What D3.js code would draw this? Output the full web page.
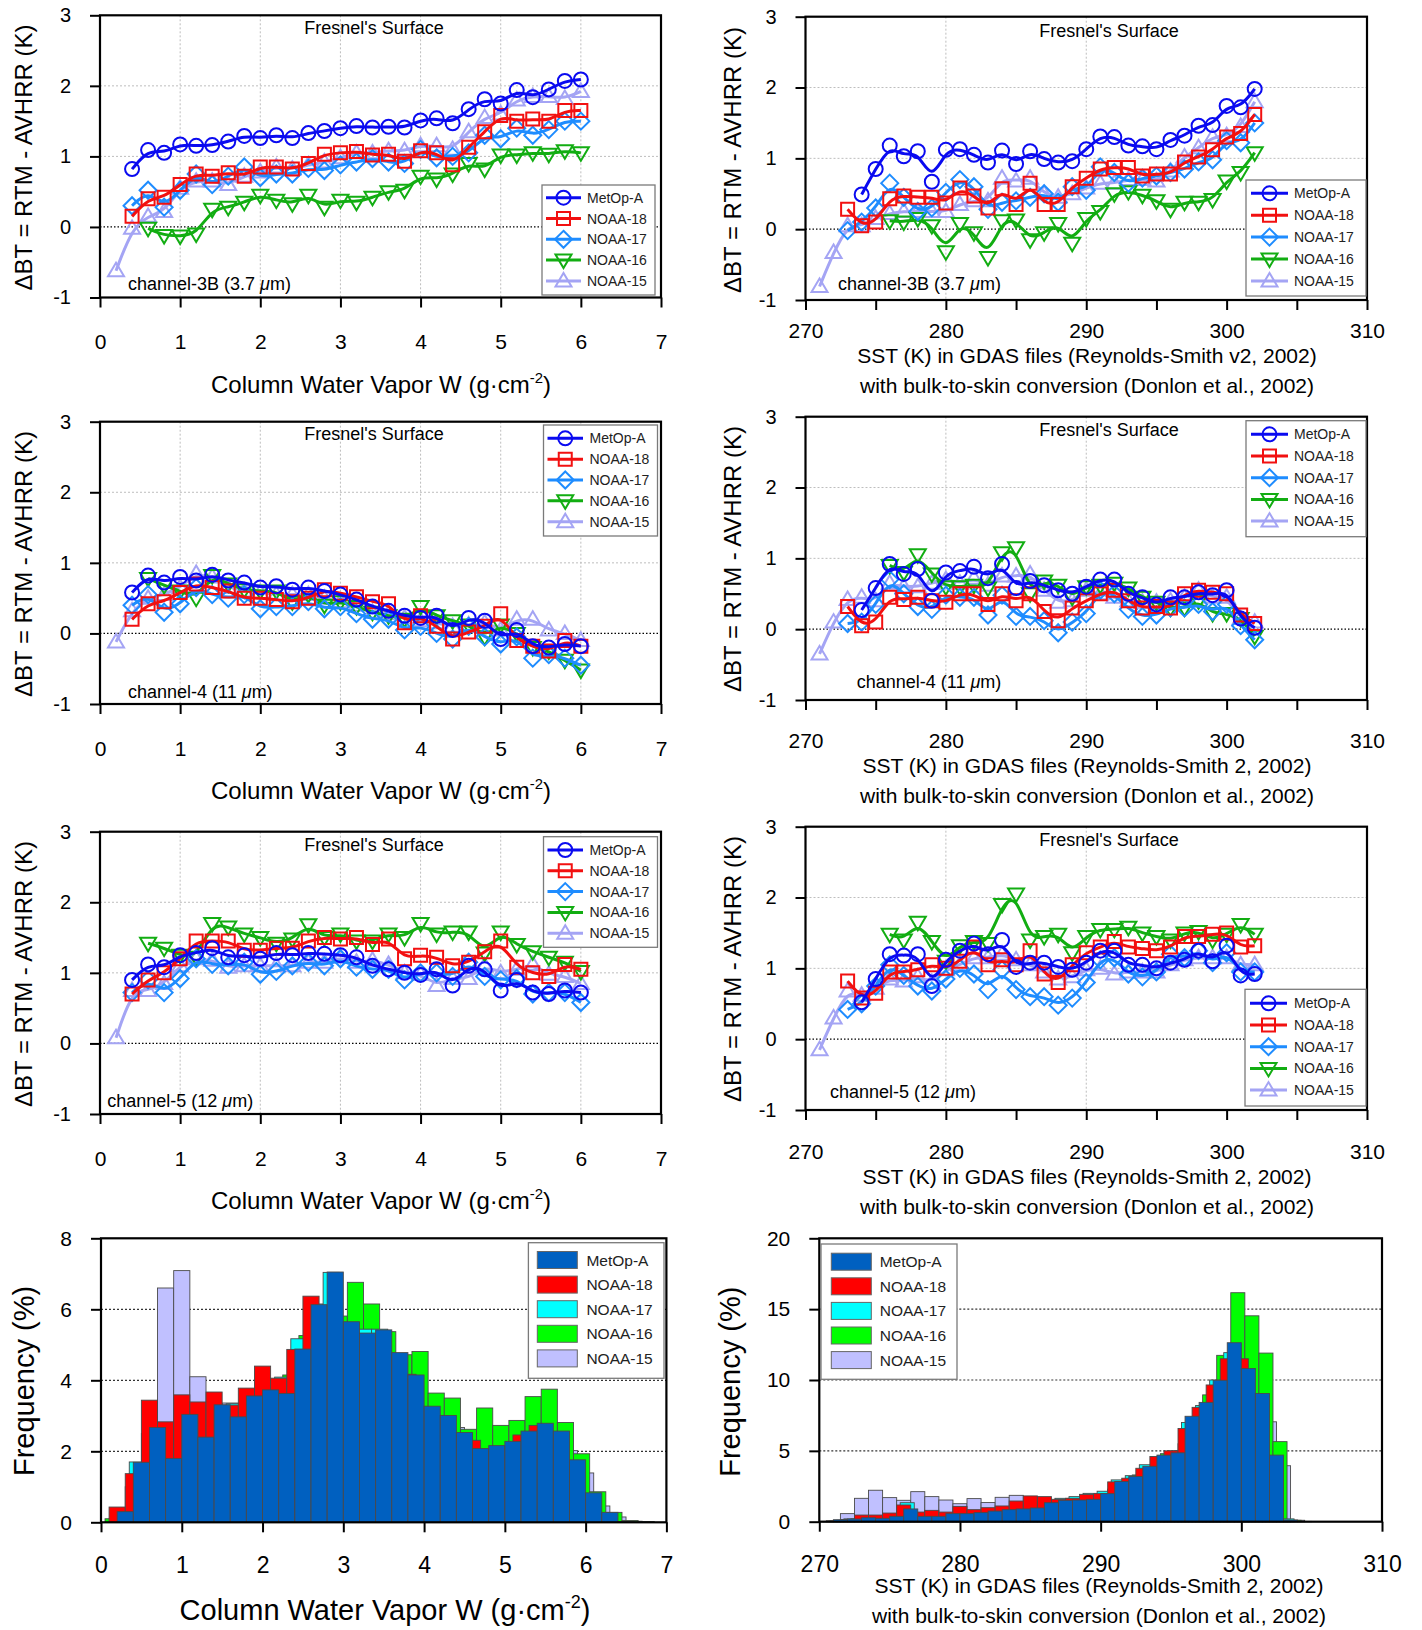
<!DOCTYPE html>
<html>
<head>
<meta charset="utf-8">
<script src="https://cdn.jsdelivr.net/npm/d3@7"></script>
<style>
  body { margin: 0; background: #fff; }
  svg { display: block; }
  text { font-family: "Liberation Sans", Arial, Helvetica, sans-serif; }
</style>
</head>
<body>
<svg id="fig" width="1422" height="1630"></svg>
<script>
// ---------- satellites ----------
const sats = ["MetOp-A", "NOAA-18", "NOAA-17", "NOAA-16", "NOAA-15"];

// ---------- x positions of the binned means ----------
const wvX = [0.2,0.4,0.6,0.8,1.0,1.2,1.4,1.6,1.8,2.0,2.2,2.4,2.6,2.8,3.0,3.2,3.4,3.6,3.8,4.0,
             4.2,4.4,4.6,4.8,5.0,5.2,5.4,5.6,5.8,6.0];
const sstX = [271,272,273,274,275,276,277,278,279,280,281,282,283,284,285,286,287,288,289,290,
              291,292,293,294,295,296,297,298,299,300,301,302];

// ---------- channel-3B (3.7 um) vs water vapour ----------
const c3w_metop = [null,0.82,1.09,1.05,1.17,1.15,1.16,1.21,1.29,1.26,1.30,1.26,1.33,1.36,1.40,1.43,1.41,1.42,1.41,1.51,1.54,1.47,1.67,1.81,1.75,1.94,1.84,1.95,2.07,2.09];
const c3w_n18   = [null,0.15,0.40,0.42,0.60,0.75,0.72,0.77,0.72,0.85,0.85,0.82,0.90,1.03,1.05,1.07,1.02,1.03,0.93,1.08,1.05,0.88,1.13,1.35,1.58,1.50,1.53,1.50,1.65,1.65];
const c3w_n17   = [null,0.30,0.52,0.28,0.52,0.75,0.60,0.72,0.85,0.70,0.75,0.75,0.83,0.80,0.88,0.92,0.97,0.92,0.90,1.10,0.98,1.00,1.05,1.30,1.25,1.40,1.30,1.38,1.50,1.50];
const c3w_n16   = [null,null,-0.02,-0.12,-0.13,-0.10,0.25,0.28,0.35,0.45,0.38,0.33,0.45,0.28,0.38,0.35,0.42,0.50,0.52,0.72,0.68,0.75,0.90,0.82,1.02,1.02,1.05,1.03,1.08,1.05];
const c3w_n15   = [-0.62,-0.02,0.15,0.22,0.55,0.65,0.65,0.60,0.72,0.78,0.85,0.82,0.88,0.92,0.98,1.05,1.05,1.08,1.08,1.15,1.15,1.10,1.35,1.55,1.60,1.80,1.85,1.85,1.82,1.92];

// ---------- channel-4 (11 um) vs water vapour ----------
const c4w_metop = [null,0.58,0.82,0.72,0.80,0.75,0.83,0.75,0.72,0.65,0.67,0.62,0.65,0.60,0.55,0.48,0.38,0.32,0.25,0.22,0.25,0.05,0.22,0.18,-0.08,0.05,-0.18,-0.20,-0.15,-0.18];
const c4w_n18   = [null,0.20,0.42,0.45,0.58,0.70,0.65,0.60,0.50,0.50,0.48,0.45,0.50,0.62,0.57,0.52,0.45,0.42,0.15,0.25,0.10,-0.08,0.02,0.10,0.28,-0.10,-0.18,-0.25,-0.10,-0.18];
const c4w_n17   = [null,0.40,0.55,0.30,0.42,0.65,0.55,0.50,0.55,0.35,0.38,0.38,0.45,0.35,0.38,0.28,0.20,0.20,0.05,0.10,0.00,-0.08,0.10,-0.05,-0.15,-0.05,-0.35,-0.30,-0.35,-0.45];
const c4w_n16   = [null,null,0.78,0.68,0.60,0.50,0.82,0.70,0.62,0.60,0.60,0.45,0.55,0.40,0.45,0.38,0.30,0.25,0.20,0.38,0.25,0.18,0.12,-0.05,0.12,0.00,-0.20,-0.25,-0.38,-0.52];
const c4w_n15   = [-0.12,0.32,0.50,0.55,0.65,0.85,0.80,0.65,0.60,0.58,0.55,0.55,0.55,0.50,0.45,0.40,0.30,0.28,0.22,0.18,0.15,0.10,0.12,0.15,0.05,0.20,0.20,0.05,0.00,-0.10];

// ---------- channel-5 (12 um) vs water vapour ----------
const c5w_metop = [null,0.90,1.12,1.08,1.25,1.28,1.35,1.22,1.25,1.20,1.28,1.25,1.28,1.27,1.25,1.22,1.10,1.05,1.00,0.97,1.05,0.82,1.10,1.05,0.75,0.90,0.72,0.70,0.75,0.72];
const c5w_n18   = [null,0.70,0.90,1.00,1.20,1.45,1.45,1.45,1.32,1.32,1.35,1.35,1.45,1.50,1.48,1.50,1.40,1.48,1.20,1.25,1.22,1.10,1.15,1.30,1.45,1.08,1.00,0.95,1.12,1.05];
const c5w_n17   = [null,0.72,0.90,0.72,0.92,1.20,1.12,1.10,1.15,0.98,1.02,1.10,1.15,1.10,1.20,1.08,1.05,1.05,0.90,1.00,1.00,0.95,1.15,0.95,0.90,0.92,0.70,0.72,0.72,0.58];
const c5w_n16   = [null,null,1.42,1.35,1.25,1.22,1.70,1.65,1.55,1.50,1.42,1.48,1.68,1.50,1.55,1.45,1.45,1.55,1.50,1.70,1.55,1.58,1.58,1.28,1.58,1.40,1.30,1.22,1.15,1.02];
const c5w_n15   = [0.08,0.75,0.75,0.85,1.10,1.20,1.18,1.08,1.10,1.10,1.10,1.10,1.15,1.15,1.22,1.15,1.18,1.12,1.00,0.98,0.82,0.92,0.92,1.10,1.00,1.05,1.12,0.98,0.95,0.85];

// ---------- channel-3B vs SST ----------
const c3s_metop = [null,null,null,0.49,0.85,1.18,1.03,1.10,0.67,1.12,1.13,1.05,0.94,1.11,0.92,1.10,0.99,0.94,0.96,1.13,1.31,1.30,1.18,1.17,1.13,1.26,1.32,1.46,1.47,1.74,1.72,1.98];
const c3s_n18   = [null,null,0.28,0.05,0.10,0.43,0.47,0.45,0.45,0.37,0.58,0.47,0.30,0.57,0.35,0.65,0.35,0.35,0.60,0.72,0.85,0.87,0.87,0.75,0.78,0.78,0.95,1.02,1.12,1.30,1.35,1.62];
const c3s_n17   = [null,null,-0.02,0.10,0.30,0.65,0.45,0.25,0.30,0.52,0.70,0.60,0.28,0.38,0.40,0.45,0.50,0.38,0.60,0.55,0.88,0.80,0.65,0.72,0.75,0.80,0.85,0.95,0.98,1.25,1.22,1.50];
const c3s_n16   = [null,null,null,null,null,0.12,0.10,0.15,0.05,-0.32,0.08,-0.05,-0.40,0.12,0.13,-0.15,-0.05,0.08,-0.20,0.15,0.25,0.50,0.53,0.48,0.40,0.28,0.38,0.38,0.42,0.68,0.80,1.08];
const c3s_n15   = [-0.81,-0.33,0.05,0.05,0.15,0.22,0.25,0.25,0.25,0.25,0.35,0.40,0.40,0.72,0.68,0.72,0.50,0.45,0.50,0.58,0.65,0.65,0.70,0.70,0.68,0.82,1.02,1.15,1.30,1.32,1.45,1.80];

// ---------- channel-4 vs SST ----------
const c4s_metop = [null,null,null,0.27,0.58,0.92,0.78,0.85,0.40,0.80,0.82,0.88,0.72,0.92,0.58,0.68,0.62,0.55,0.50,0.60,0.70,0.70,0.50,0.45,0.35,0.45,0.45,0.52,0.48,0.55,0.15,0.02];
const c4s_n18   = [null,null,0.32,0.05,0.10,0.45,0.42,0.45,0.40,0.38,0.50,0.50,0.35,0.50,0.40,0.50,0.25,0.12,0.30,0.40,0.50,0.55,0.40,0.30,0.32,0.30,0.50,0.55,0.52,0.50,0.20,0.08];
const c4s_n17   = [null,null,0.08,0.10,0.35,0.70,0.50,0.32,0.28,0.48,0.45,0.45,0.20,0.48,0.18,0.18,0.12,-0.05,0.10,0.22,0.55,0.50,0.28,0.18,0.20,0.30,0.30,0.35,0.25,0.35,0.05,-0.15];
const c4s_n16   = [null,null,null,null,null,0.90,0.80,1.05,0.78,0.60,0.60,0.62,0.58,1.08,1.15,0.50,0.68,0.62,0.45,0.60,0.62,0.65,0.58,0.45,0.38,0.30,0.30,0.40,0.22,0.22,0.15,-0.10];
const c4s_n15   = [-0.35,0.10,0.42,0.45,0.40,0.65,0.60,0.60,0.65,0.70,0.65,0.72,0.62,0.75,0.75,0.78,0.55,0.38,0.40,0.55,0.50,0.45,0.40,0.38,0.38,0.40,0.45,0.55,0.45,0.45,0.15,0.10];

// ---------- channel-5 vs SST ----------
const c5s_metop = [null,null,null,0.52,0.85,1.20,1.18,1.20,0.75,1.12,1.25,1.35,1.20,1.40,1.02,1.08,1.08,1.02,0.98,1.08,1.25,1.25,1.05,1.05,1.00,1.08,1.12,1.25,1.10,1.32,0.90,0.92];
const c5s_n18   = [null,null,0.82,0.58,0.65,0.95,0.95,0.98,1.05,1.00,1.10,1.30,1.05,1.12,1.05,1.25,0.92,0.80,1.05,1.22,1.30,1.38,1.30,1.28,1.25,1.30,1.45,1.45,1.48,1.50,1.30,1.32];
const c5s_n17   = [null,null,0.42,0.50,0.75,1.05,0.90,0.75,0.68,0.85,1.00,0.92,0.70,0.98,0.70,0.60,0.60,0.48,0.58,0.80,1.12,1.15,0.92,0.88,0.95,1.20,1.15,1.25,1.08,1.22,0.95,0.95];
const c5s_n16   = [null,null,null,null,null,1.48,1.40,1.65,1.38,1.10,1.32,1.38,1.35,1.90,2.05,1.40,1.45,1.48,1.22,1.45,1.55,1.55,1.58,1.50,1.45,1.40,1.50,1.52,1.40,1.48,1.62,1.48];
const c5s_n15   = [-0.15,0.30,0.68,0.62,0.72,0.85,0.82,0.88,0.80,0.98,1.05,1.15,1.15,1.20,1.12,1.05,0.95,0.85,0.88,0.98,1.00,0.92,0.95,0.95,0.95,1.05,1.12,1.15,1.15,1.15,1.05,1.05];

// ---------- frequency histograms (%), water vapour bins of 0.2 g/cm2 ----------
const wvBinWidth = 0.2;
const wvBinStart = [0.0, 0.1, 0.15, 0.05, 0.1];   // first bin edge per satellite (order as sats)
const hw_metop = [0,0.30,1.69,2.67,1.80,3.04,2.40,3.31,2.97,3.56,3.73,3.63,4.88,6.13,7.05,5.65,5.33,5.42,4.78,4.15,3.27,3.01,2.53,2.08,2.16,2.28,2.57,2.79,2.57,1.76,0.83,0.28,0.02,0.01];
const hw_n18   = [0.43,1.37,3.44,2.83,3.59,3.39,3.67,3.30,3.78,4.40,4.06,4.87,6.37,6.0,5.6,5.3,5.2,4.7,4.17,3.2,3.0,2.5,2.31,2.0,2.1,2.46,2.73,2.5,1.7,0.8,0.25,0.02];
const hw_n17   = [0.3,1.70,2.4,2.2,2.8,2.6,3.2,3.34,3.3,3.7,4.09,5.17,6.15,7.04,5.6,5.44,5.44,4.7,4.1,3.2,2.95,2.45,2.05,2.05,2.15,2.25,2.55,2.5,1.7,0.8,0.25,0.02];
const hw_n16   = [0.1,0.4,1.3,2.2,2.0,2.6,2.3,3.0,2.9,3.3,3.6,4.15,5.26,5.9,5.81,6.76,6.15,5.37,4.72,4.81,3.64,3.50,2.62,3.22,2.73,2.87,3.54,3.75,2.81,1.93,0.86,0.28,0.05,0.02];
const hw_n15   = [0.1,1.0,2.5,6.60,7.09,4.10,3.3,3.36,3.0,3.2,3.3,3.6,4.0,4.6,4.8,4.6,4.5,4.2,3.8,3.3,2.9,2.67,2.3,2.1,2.2,2.3,2.5,2.5,2.02,1.39,0.46,0.15,0.03];

// ---------- frequency histograms (%), SST bins of 1 K ----------
const sstBinWidth = 1;
const sstBinStart = [270, 270.5, 270.75, 270.25, 270.5];
const hs_metop = [0.02,0.14,0.19,0.28,0.24,0.38,0.90,0.38,0.38,0.57,0.57,0.64,0.75,0.85,0.90,0.97,1.34,1.51,1.53,1.58,1.98,2.84,3.19,3.91,4.70,4.86,7.44,8.42,9.98,12.63,10.81,9.05,4.70,0.12,0.02];
const hs_n18   = [0.05,0.15,0.47,0.47,0.61,1.18,0.68,0.80,0.68,1.08,0.85,0.99,1.11,1.46,1.82,1.77,1.58,1.65,1.93,1.98,2.81,3.07,3.77,4.6,5.0,6.58,8.07,9.65,11.5,11.5,9.0,4.5,0.1];
const hs_n17   = [0.05,0.2,0.3,0.3,0.5,1.34,0.5,0.5,0.6,0.65,0.7,0.8,0.9,1.0,1.1,1.4,1.65,1.77,2.0,2.15,2.95,3.25,4.02,4.46,5.0,7.0,8.2,10.0,11.93,10.5,8.8,4.5,0.2];
const hs_n16   = [0.02,0.1,0.2,0.3,0.3,0.5,0.6,0.5,0.5,0.6,0.6,0.7,0.8,0.9,1.0,1.2,1.4,1.5,1.6,1.9,2.1,2.7,3.3,3.9,4.8,5.0,7.3,8.95,11.74,16.16,14.53,11.9,5.65,0.1];
const hs_n15   = [0.05,0.57,1.65,2.22,1.70,1.51,2.12,1.77,1.53,1.27,1.63,1.35,1.72,1.86,1.4,1.4,1.4,1.5,1.6,1.8,2.3,2.6,3.2,3.8,4.3,5.5,6.8,8.0,9.5,10.0,8.5,7.05,3.95,0.1];

// ---------- axis ticks ----------
const wvTicks = [0,1,2,3,4,5,6,7];
const sstTicks = [270,275,280,285,290,295,300,305,310];
const sstHistTicks = [270,280,290,300,310];
const dbtTicks = [-1,0,1,2,3];
const freqWTicks = [0,2,4,6,8];
const freqSTicks = [0,5,10,15,20];

// ---------- styles ----------
const lineColor = {"MetOp-A":"#0a0af0","NOAA-18":"#f21010","NOAA-17":"#1e8cff","NOAA-16":"#12ad12","NOAA-15":"#a4a4f4"};
const barColor  = {"MetOp-A":"#0060c0","NOAA-18":"#ff0000","NOAA-17":"#00ffff","NOAA-16":"#00ff00","NOAA-15":"#c0c0ff"};
const shape = {"MetOp-A":"circle","NOAA-18":"square","NOAA-17":"diamond","NOAA-16":"tridown","NOAA-15":"triup"};

const svg = d3.select("#fig");
const plain = d => String(d);   // integer labels with a plain hyphen for negatives

function markerPath(kind) {
  const p = d3.path();
  if (kind === "circle") { p.moveTo(7, 0); p.arc(0, 0, 7, 0, 2 * Math.PI); }
  else if (kind === "square") { p.rect(-6.5, -6.5, 13, 13); }
  else if (kind === "diamond") { p.moveTo(0,-8.5); p.lineTo(8.5,0); p.lineTo(0,8.5); p.lineTo(-8.5,0); p.closePath(); }
  else if (kind === "tridown") { p.moveTo(-8,-5.5); p.lineTo(8,-5.5); p.lineTo(0,8); p.closePath(); }
  else { p.moveTo(-8,5.5); p.lineTo(8,5.5); p.lineTo(0,-8); p.closePath(); }
  return p.toString();
}

function wvTitle(g, cx, by, size) {
  const t = g.append("text").attr("x", cx).attr("y", by).attr("text-anchor", "middle")
    .attr("font-size", size).attr("fill", "#000");
  t.append("tspan").text("Column Water Vapor W (g·cm");
  t.append("tspan").attr("dy", -0.42 * size).attr("font-size", size * 0.62).text("-2");
  t.append("tspan").attr("dy", 0.42 * size).text(")");
}

function sstTitle(g, cx, by1, by2, size, first) {
  g.append("text").attr("x", cx).attr("y", by1).attr("text-anchor", "middle").attr("font-size", size).text(first);
  g.append("text").attr("x", cx).attr("y", by2).attr("text-anchor", "middle").attr("font-size", size)
    .text("with bulk-to-skin conversion (Donlon et al., 2002)");
}

function yTitle(g, bx, cy, size, txt) {
  g.append("text").attr("transform", `translate(${bx},${cy}) rotate(-90)`)
    .attr("text-anchor", "middle").attr("font-size", size).text(txt);
}

function styleAxis(ga, fs) {
  ga.select(".domain").remove();
  ga.attr("font-size", fs);
  ga.selectAll(".tick line").attr("stroke", "#000").attr("stroke-width", 2);
  ga.selectAll(".tick text").attr("fill", "#000");
}

// ---------- line panels ----------
function linePanel(o) {
  const g = svg.append("g");
  const x = d3.scaleLinear().domain(o.xDomain).range([o.left, o.right]);
  const y = d3.scaleLinear().domain([-1, 3]).range([o.bottom, o.top]);

  g.selectAll(null).data(o.xGrid).join("line")
    .attr("x1", d => x(d)).attr("x2", d => x(d)).attr("y1", o.top).attr("y2", o.bottom)
    .attr("stroke", "#bdbdbd").attr("stroke-width", 1).attr("stroke-dasharray", "2,2");
  g.selectAll(null).data([1, 2]).join("line")
    .attr("x1", o.left).attr("x2", o.right).attr("y1", d => y(d)).attr("y2", d => y(d))
    .attr("stroke", "#bdbdbd").attr("stroke-width", 1).attr("stroke-dasharray", "2,2");
  g.append("line").attr("x1", o.left).attr("x2", o.right).attr("y1", y(0)).attr("y2", y(0))
    .attr("stroke", "#000").attr("stroke-width", 1.3).attr("stroke-dasharray", "1.5,2");

  const line = d3.line().x(d => x(d[0])).y(d => y(d[1])).curve(d3.curveBasis);
  [...sats].reverse().forEach(n => {
    const pts = o.xs.map((xv, i) => [xv, o.series[n][i]]).filter(d => d[1] !== null);
    g.append("g").selectAll("path").data(pts).join("path")
      .attr("d", markerPath(shape[n]))
      .attr("transform", d => `translate(${x(d[0])},${y(d[1])})`)
      .attr("fill", "none").attr("stroke", lineColor[n]).attr("stroke-width", 2);
    g.append("path").datum(pts).attr("d", line)
      .attr("fill", "none").attr("stroke", lineColor[n]).attr("stroke-width", 3);
  });

  g.append("rect").attr("x", o.left).attr("y", o.top).attr("width", o.right - o.left)
    .attr("height", o.bottom - o.top).attr("fill", "none").attr("stroke", "#000").attr("stroke-width", 2.2);

  const gx = g.append("g").attr("transform", `translate(0,${o.bottom})`)
    .call(d3.axisBottom(x).tickValues(o.xTicks)
      .tickFormat(d => (o.xLabelEvery ? (d % o.xLabelEvery === 0 ? String(d) : "") : String(d)))
      .tickSize(10).tickPadding(o.xPad));
  styleAxis(gx, 21);
  const gy = g.append("g").attr("transform", `translate(${o.left},0)`)
    .call(d3.axisLeft(y).tickValues(dbtTicks).tickFormat(plain).tickSize(10).tickPadding(19));
  styleAxis(gy, 20);

  g.append("text").attr("x", o.fresnel[0]).attr("y", o.fresnel[1]).attr("text-anchor", "middle")
    .attr("font-size", 18).text("Fresnel's Surface");
  const ch = g.append("text").attr("x", o.chan[0]).attr("y", o.chan[1]).attr("font-size", 18);
  ch.append("tspan").text(o.chanText);
  ch.append("tspan").attr("font-style", "italic").text("μ");
  ch.append("tspan").text("m)");

  // legend
  const L = o.legend;
  const lg = g.append("g");
  lg.append("rect").attr("x", L.x).attr("y", L.y).attr("width", L.w).attr("height", L.h)
    .attr("fill", "#fff").attr("stroke", "#7a7a7a").attr("stroke-width", 1.3);
  sats.forEach((n, i) => {
    const cy = L.row0 + i * L.dy;
    lg.append("line").attr("x1", L.lx1).attr("x2", L.lx2).attr("y1", cy).attr("y2", cy)
      .attr("stroke", lineColor[n]).attr("stroke-width", 3);
    lg.append("path").attr("d", markerPath(shape[n]))
      .attr("transform", `translate(${(L.lx1 + L.lx2) / 2},${cy})`)
      .attr("fill", "none").attr("stroke", lineColor[n]).attr("stroke-width", 2);
    lg.append("text").attr("x", L.tx).attr("y", cy + 5).attr("font-size", 14).attr("fill", "#222").text(n);
  });
  return g;
}

// ---------- histogram panels ----------
function histPanel(o) {
  const g = svg.append("g");
  const x = d3.scaleLinear().domain(o.xDomain).range([o.left, o.right]);
  const y = d3.scaleLinear().domain(o.yDomain).range([o.bottom, o.top]);

  g.selectAll(null).data(o.yGrid).join("line")
    .attr("x1", o.left).attr("x2", o.right).attr("y1", d => y(d)).attr("y2", d => y(d))
    .attr("stroke", "#333").attr("stroke-width", 1.2).attr("stroke-dasharray", "2,2");

  [...sats].reverse().forEach(n => {
    const k = sats.indexOf(n);
    const bins = o.series[n].map((v, i) => ({ x0: o.starts[k] + i * o.width, v }));
    g.append("g").selectAll("rect").data(bins).join("rect")
      .attr("x", d => x(d.x0)).attr("width", d => x(d.x0 + o.width) - x(d.x0))
      .attr("y", d => y(d.v)).attr("height", d => y(0) - y(d.v))
      .attr("fill", barColor[n]).attr("stroke", "#4a4a4a").attr("stroke-width", 0.9);
  });

  g.append("rect").attr("x", o.left).attr("y", o.top).attr("width", o.right - o.left)
    .attr("height", o.bottom - o.top).attr("fill", "none").attr("stroke", "#000").attr("stroke-width", 2.2);

  const gx = g.append("g").attr("transform", `translate(0,${o.bottom})`)
    .call(d3.axisBottom(x).tickValues(o.xTicks).tickFormat(plain).tickSize(10).tickPadding(o.xPad));
  styleAxis(gx, 23);
  const gy = g.append("g").attr("transform", `translate(${o.left},0)`)
    .call(d3.axisLeft(y).tickValues(o.yTicks).tickFormat(plain).tickSize(10).tickPadding(19));
  styleAxis(gy, 21);

  const L = o.legend;
  const lg = g.append("g");
  lg.append("rect").attr("x", L.x).attr("y", L.y).attr("width", L.w).attr("height", L.h)
    .attr("fill", "#fff").attr("stroke", "#7a7a7a").attr("stroke-width", 1.3);
  sats.forEach((n, i) => {
    const cy = L.row0 + i * L.dy;
    lg.append("rect").attr("x", L.sx).attr("y", cy - 8.5).attr("width", 40).attr("height", 17)
      .attr("fill", barColor[n]).attr("stroke", "#666").attr("stroke-width", 1);
    lg.append("text").attr("x", L.tx).attr("y", cy + 5.5).attr("font-size", 15.5).attr("fill", "#222").text(n);
  });
  return g;
}

function byName(a, b, c, d, e) { return {"MetOp-A": a, "NOAA-18": b, "NOAA-17": c, "NOAA-16": d, "NOAA-15": e}; }

// left column: water vapour; right column: SST
const leftCol = { left: 100, right: 661, xDomain: [0, 7], xs: wvX, xTicks: wvTicks, xGrid: [1,2,3,4,5,6] };
const rightCol = { left: 805.5, right: 1367, xDomain: [270, 310], xs: sstX, xTicks: sstTicks, xLabelEvery: 10, xGrid: [280, 290] };

const g1 = linePanel(Object.assign({}, leftCol, {
  top: 15.3, bottom: 297.5, xPad: 26.3,
  series: byName(c3w_metop, c3w_n18, c3w_n17, c3w_n16, c3w_n15),
  fresnel: [374, 34], chan: [128, 290], chanText: "channel-3B (3.7 ",
  legend: { x: 542, y: 185, w: 113, h: 110, row0: 197.7, dy: 20.8, lx1: 546, lx2: 581, tx: 587 }
}));
wvTitle(g1, 381, 393, 24);
yTitle(g1, 32, 157.5, 24, "ΔBT = RTM - AVHRR (K)");

const g2 = linePanel(Object.assign({}, rightCol, {
  top: 16.7, bottom: 300, xPad: 12.8,
  series: byName(c3s_metop, c3s_n18, c3s_n17, c3s_n16, c3s_n15),
  fresnel: [1109, 36.7], chan: [838, 290], chanText: "channel-3B (3.7 ",
  legend: { x: 1246, y: 180, w: 120, h: 116, row0: 193.3, dy: 21.9, lx1: 1251, lx2: 1288, tx: 1294 }
}));
sstTitle(g2, 1087, 362.5, 392.5, 21, "SST (K) in GDAS files (Reynolds-Smith v2, 2002)");
yTitle(g2, 740.6, 160, 24, "ΔBT = RTM - AVHRR (K)");

const g3 = linePanel(Object.assign({}, leftCol, {
  top: 421.7, bottom: 704, xPad: 26.6,
  series: byName(c4w_metop, c4w_n18, c4w_n17, c4w_n16, c4w_n15),
  fresnel: [374, 440], chan: [128, 697.7], chanText: "channel-4 (11 ",
  legend: { x: 543.5, y: 425, w: 114, h: 111, row0: 438.3, dy: 20.85, lx1: 547.5, lx2: 583, tx: 589.5 }
}));
wvTitle(g3, 381, 799, 24);
yTitle(g3, 32, 564, 24, "ΔBT = RTM - AVHRR (K)");

const g4 = linePanel(Object.assign({}, rightCol, {
  top: 416.7, bottom: 700, xPad: 23.5,
  series: byName(c4s_metop, c4s_n18, c4s_n17, c4s_n16, c4s_n15),
  fresnel: [1109, 436], chan: [856.7, 688.3], chanText: "channel-4 (11 ",
  legend: { x: 1246, y: 420.7, w: 120, h: 116, row0: 434.3, dy: 21.7, lx1: 1251, lx2: 1288, tx: 1294 }
}));
sstTitle(g4, 1087, 773, 803, 21, "SST (K) in GDAS files (Reynolds-Smith 2, 2002)");
yTitle(g4, 740.6, 559, 24, "ΔBT = RTM - AVHRR (K)");

const g5 = linePanel(Object.assign({}, leftCol, {
  top: 831.7, bottom: 1114, xPad: 26.6,
  series: byName(c5w_metop, c5w_n18, c5w_n17, c5w_n16, c5w_n15),
  fresnel: [374, 850.7], chan: [107.2, 1106.7], chanText: "channel-5 (12 ",
  legend: { x: 543.5, y: 836.7, w: 114, h: 110.6, row0: 850, dy: 20.8, lx1: 547.5, lx2: 583, tx: 589.5 }
}));
wvTitle(g5, 381, 1209, 24);
yTitle(g5, 32, 974, 24, "ΔBT = RTM - AVHRR (K)");

const g6 = linePanel(Object.assign({}, rightCol, {
  top: 826.7, bottom: 1110, xPad: 24.5,
  series: byName(c5s_metop, c5s_n18, c5s_n17, c5s_n16, c5s_n15),
  fresnel: [1109, 846], chan: [830, 1098.3], chanText: "channel-5 (12 ",
  legend: { x: 1245, y: 989.3, w: 121, h: 116.7, row0: 1003.3, dy: 21.7, lx1: 1250, lx2: 1287, tx: 1294 }
}));
sstTitle(g6, 1087, 1183.5, 1214, 21, "SST (K) in GDAS files (Reynolds-Smith 2, 2002)");
yTitle(g6, 740.6, 969, 24, "ΔBT = RTM - AVHRR (K)");

// bottom row: sample frequency
const g7 = histPanel({
  left: 101, right: 666.4, top: 1238.3, bottom: 1522.3, xDomain: [0, 7], yDomain: [0, 8],
  xTicks: wvTicks, yTicks: freqWTicks, yGrid: [2, 4, 6], xPad: 24.6,
  width: wvBinWidth, starts: wvBinStart,
  series: byName(hw_metop, hw_n18, hw_n17, hw_n16, hw_n15),
  legend: { x: 528.4, y: 1242.7, w: 135.6, h: 135.6, row0: 1260, dy: 24.6, sx: 537.3, tx: 586.4 }
});
wvTitle(g7, 385, 1620, 29);
yTitle(g7, 34, 1381, 29, "Frequency (%)");

const g8 = histPanel({
  left: 819.3, right: 1382, top: 1238.3, bottom: 1521.7, xDomain: [270, 310], yDomain: [0, 20],
  xTicks: sstHistTicks, yTicks: freqSTicks, yGrid: [5, 10, 15], xPad: 23.5,
  width: sstBinWidth, starts: sstBinStart,
  series: byName(hs_metop, hs_n18, hs_n17, hs_n16, hs_n15),
  legend: { x: 821, y: 1244, w: 136, h: 135.3, row0: 1261.7, dy: 24.6, sx: 831.3, tx: 879.7 }
});
sstTitle(g8, 1099, 1592.7, 1622.7, 21, "SST (K) in GDAS files (Reynolds-Smith 2, 2002)");
yTitle(g8, 740, 1381.7, 29, "Frequency (%)");
</script>
</body>
</html>
